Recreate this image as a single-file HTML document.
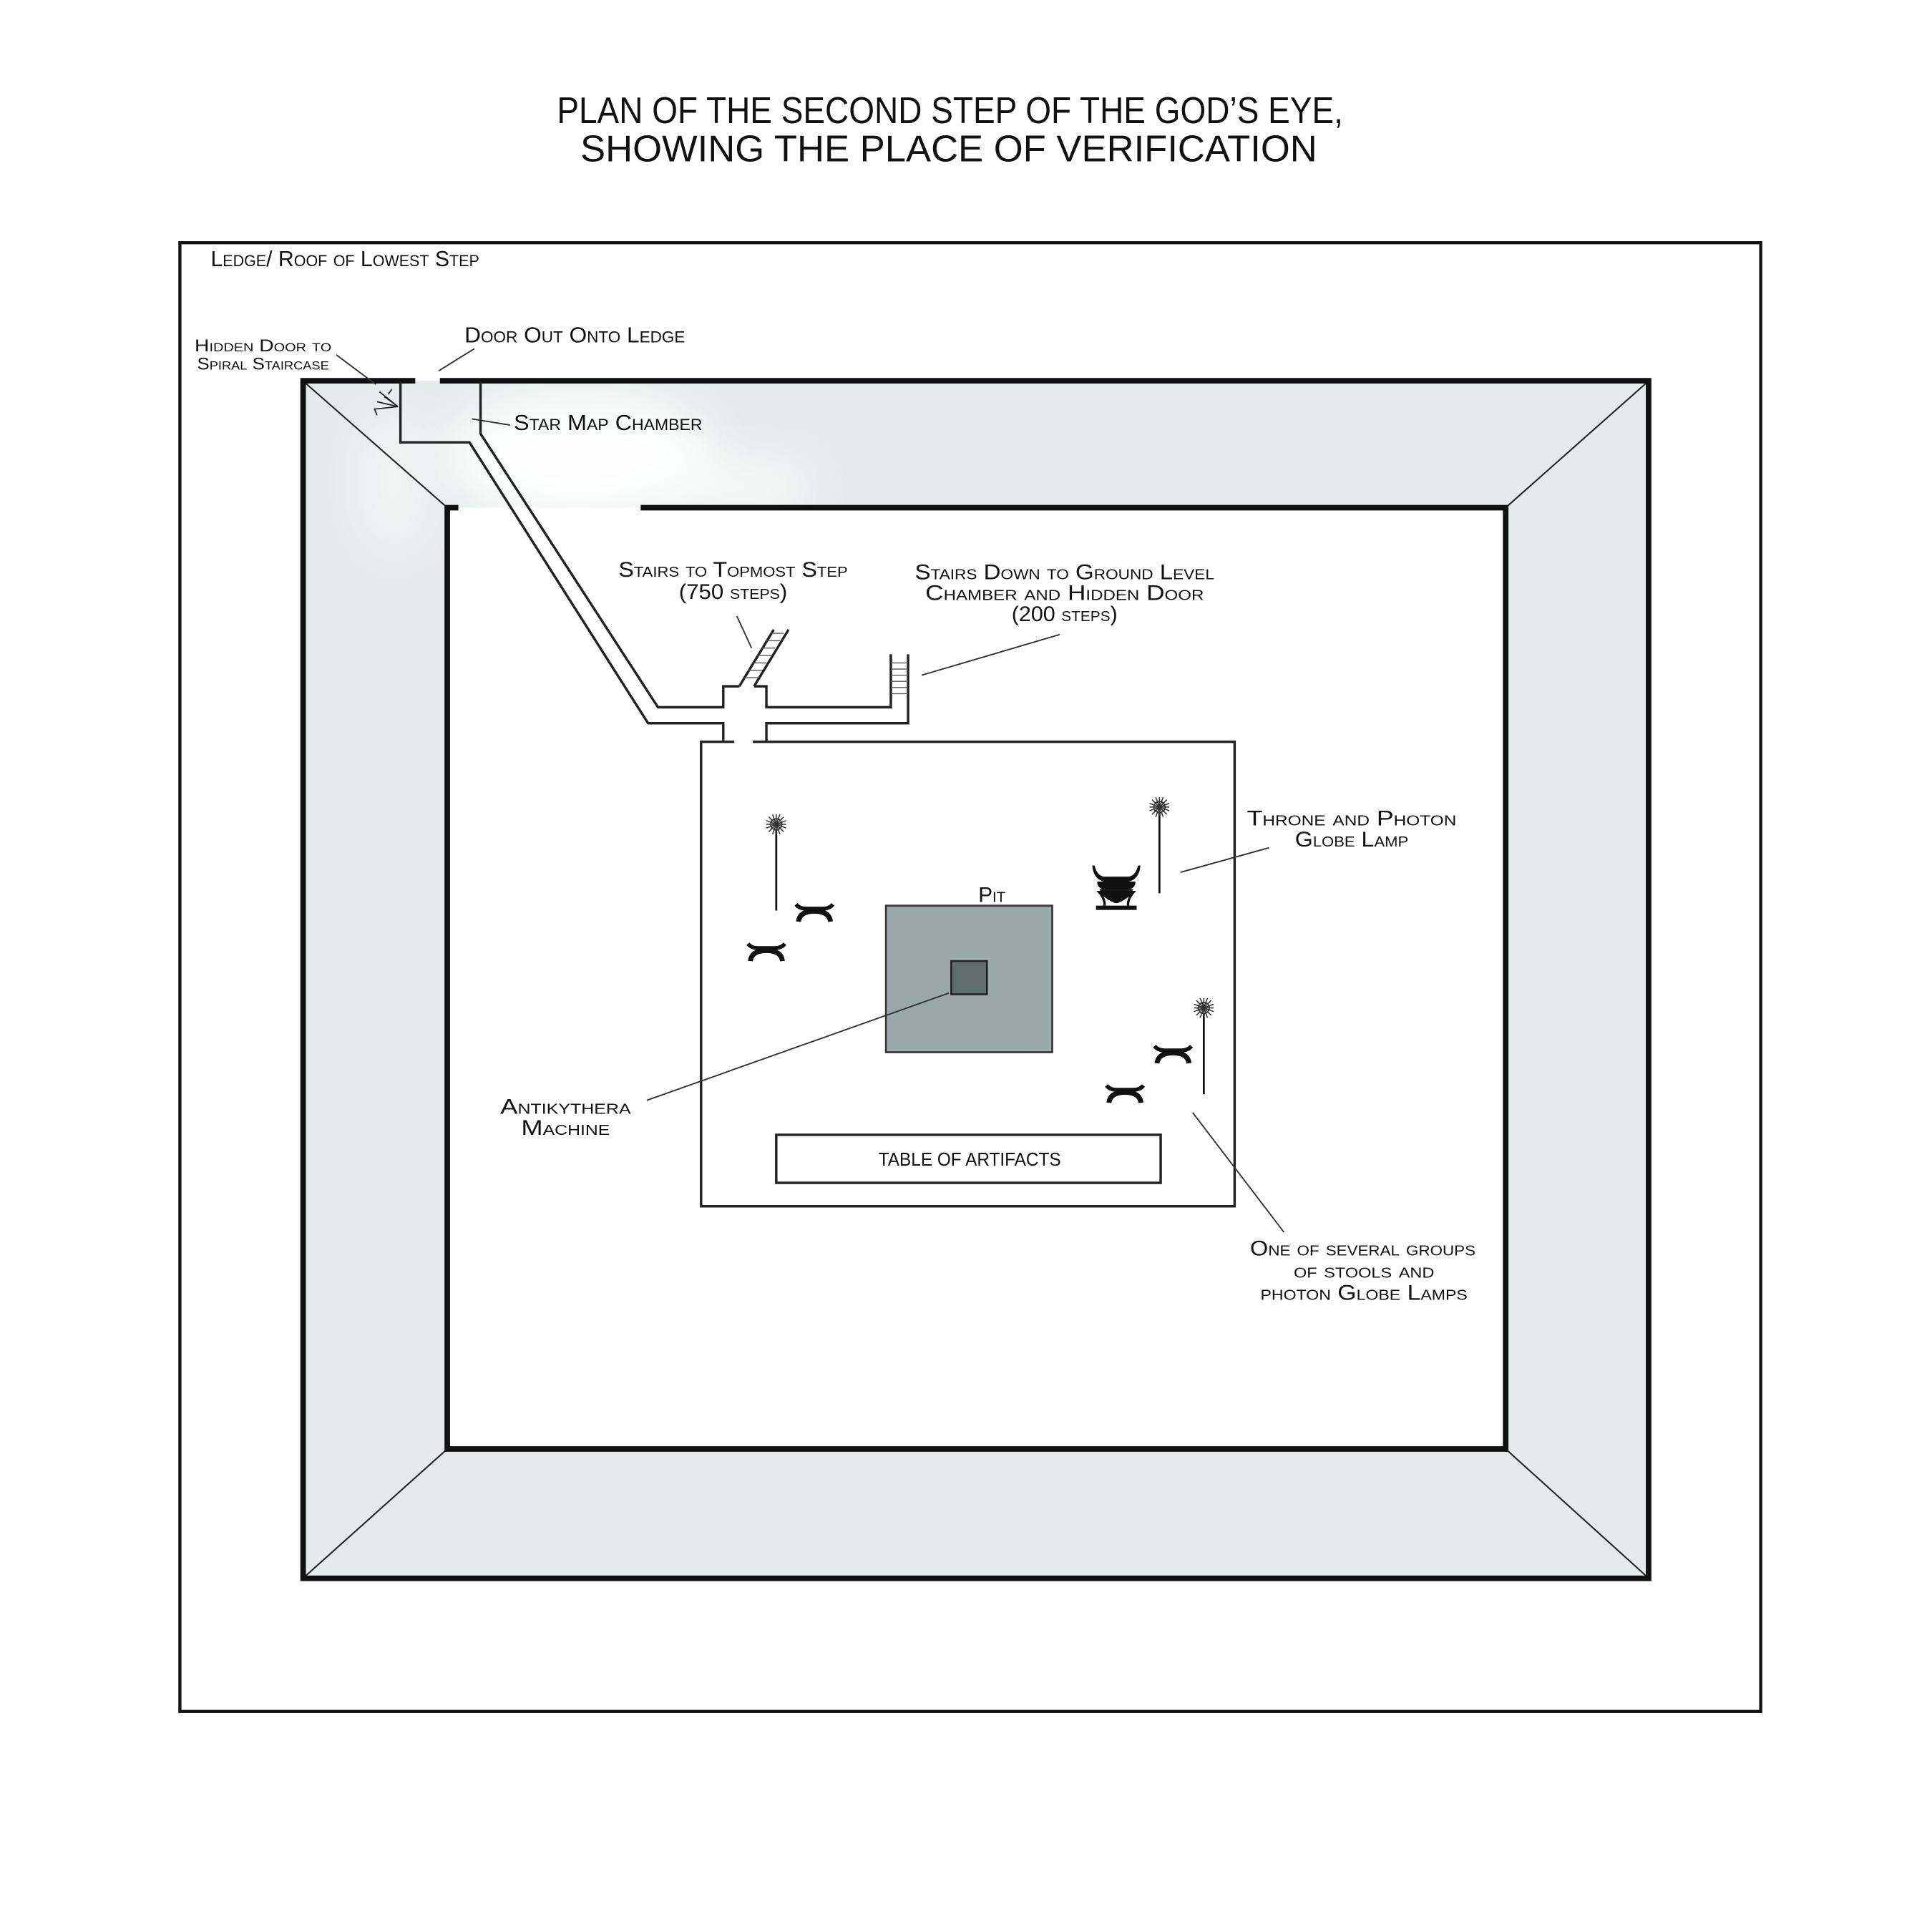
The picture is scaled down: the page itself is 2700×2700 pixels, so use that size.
<!DOCTYPE html>
<html><head><meta charset="utf-8">
<style>
html,body{margin:0;padding:0;background:#fff;}
svg{display:block;}
text{font-family:"Liberation Sans",sans-serif;fill:#111;font-variant:small-caps;}
</style></head>
<body>
<svg width="2700" height="2700" viewBox="0 0 1568 1568" xmlns="http://www.w3.org/2000/svg">
<defs>
<filter id="bl" x="-50%" y="-50%" width="200%" height="200%"><feGaussianBlur stdDeviation="18"/></filter>
<g id="stool"><path d="M1,1 Q4,4.5 9,4.5 H23 Q28,4.5 31,1" fill="none" stroke="#111" stroke-width="3.2"/><path d="M3,15 Q4,6.5 16,6.5 Q28,6.5 29,15" fill="none" stroke="#111" stroke-width="4"/></g>
<g id="lamp"><line x1="0" y1="0" x2="0" y2="70" stroke="#111" stroke-width="1.6"/><circle cx="0" cy="0" r="4.5" fill="#fff" stroke="#333" stroke-width="1"/><circle cx="0" cy="0" r="2" fill="#111"/><g stroke="#333" stroke-width="0.9"><line x1="-8" y1="0" x2="8" y2="0"/><line x1="0" y1="-8" x2="0" y2="8"/><line x1="-6" y1="-6" x2="6" y2="6"/><line x1="-6" y1="6" x2="6" y2="-6"/><line x1="-3" y1="-8" x2="3" y2="8"/><line x1="3" y1="-8" x2="-3" y2="8"/><line x1="-8" y1="-3" x2="8" y2="3"/><line x1="-8" y1="3" x2="8" y2="-3"/></g></g>
</defs>
<rect width="1568" height="1568" fill="#fff"/>

<text x="771" y="100" font-size="30" text-anchor="middle" textLength="638" lengthAdjust="spacingAndGlyphs" style="font-variant:normal">PLAN OF THE SECOND STEP OF THE GOD’S EYE,</text>
<text x="770" y="131" font-size="30" text-anchor="middle" textLength="598" lengthAdjust="spacingAndGlyphs" style="font-variant:normal">SHOWING THE PLACE OF VERIFICATION</text>

<rect x="146" y="197" width="1283" height="1192" fill="none" stroke="#111" stroke-width="2.5"/>

<path d="M246,309 H1338 V1281 H246 Z M363,412 V1176 H1222 V412 Z" fill="#e6eaea" fill-rule="evenodd"/>
<ellipse cx="470" cy="370" rx="110" ry="55" fill="#fff" filter="url(#bl)" opacity="0.9"/>
<ellipse cx="600" cy="395" rx="60" ry="25" fill="#fff" filter="url(#bl)" opacity="0.7"/>
<ellipse cx="320" cy="390" rx="30" ry="60" fill="#fff" filter="url(#bl)" opacity="0.5"/>
<g stroke="#222" stroke-width="1.2">
<line x1="248" y1="311" x2="363" y2="412"/><line x1="1336" y1="311" x2="1222" y2="412"/>
<line x1="248" y1="1279" x2="363" y2="1176"/><line x1="1336" y1="1279" x2="1222" y2="1176"/>
</g>
<g stroke="#111" stroke-width="4.5" fill="none">
<path d="M337,309 H246 V1281 H1338 V309 H357"/>
<path d="M372,412 H363 V1176 H1222 V412 H520"/>
</g>

<g stroke="#222" stroke-width="2" fill="none">
<path d="M325,310 V359 H381 L526,587 H587 V602"/>
<path d="M390,310 V352 L534,574 H587 V557 H600"/>
<path d="M612,557 H622 V574 H723 V531"/>
<path d="M737,531 V587 H622 V602"/>
<path d="M600,557 L628,511 M612,557 L640,511"/>
</g>
<g stroke="#555" stroke-width="0.8">
<line x1="604" y1="550" x2="615" y2="550"/><line x1="607" y1="544" x2="619" y2="544"/><line x1="611" y1="538" x2="622" y2="538"/><line x1="614" y1="532" x2="626" y2="532"/><line x1="618" y1="526" x2="629" y2="526"/><line x1="621" y1="520" x2="633" y2="520"/><line x1="625" y1="514" x2="636" y2="514"/>
<line x1="723" y1="538" x2="737" y2="538"/><line x1="723" y1="543" x2="737" y2="543"/><line x1="723" y1="548" x2="737" y2="548"/><line x1="723" y1="553" x2="737" y2="553"/><line x1="723" y1="558" x2="737" y2="558"/><line x1="723" y1="563" x2="737" y2="563"/>
</g>
<g stroke="#222" stroke-width="1" fill="none"><path d="M323,330 L308,318 M323,330 L312,322 M323,330 L306,326 M323,330 L304,332 L306,337 M315,320 L318,316"/></g>

<path d="M596,602 H569 V979 H1002 V602 H611" fill="none" stroke="#222" stroke-width="2"/>
<rect x="719" y="735" width="135" height="119" fill="#9aa8a8" stroke="#333" stroke-width="1.5"/>
<rect x="772" y="780" width="29" height="27" fill="#5f6d6d" stroke="#222" stroke-width="1.5"/>
<rect x="630" y="921" width="312" height="39" fill="#fff" stroke="#222" stroke-width="2"/>
<text x="787" y="946" font-size="15" text-anchor="middle" textLength="148" lengthAdjust="spacingAndGlyphs" style="font-variant:normal">TABLE OF ARTIFACTS</text>

<use href="#lamp" x="630" y="669"/>
<use href="#lamp" x="941" y="655"/>
<use href="#lamp" x="977" y="818"/>
<use href="#stool" x="645" y="733"/>
<use href="#stool" x="606" y="765"/>
<use href="#stool" x="936" y="848"/>
<use href="#stool" x="897" y="880"/>
<g transform="translate(886,701)" fill="#111" stroke="#111">
<path d="M1,2 Q2,12 10,14 L30,14 Q38,12 39,2 L38,2 Q36,10 30,11 L10,11 Q4,10 2,2 Z"/>
<path d="M5,15 H35 Q35,19 31,20 H9 Q5,19 5,15 Z"/>
<path d="M7,21 Q10,28 20,28 Q30,28 33,21 Z"/>
<circle cx="20" cy="28" r="3.5"/>
<path d="M6,23 Q12,30 10,36 H30 Q28,30 34,23 L33,23 Q25,30 20,31 Q15,30 7,23 Z" fill="none" stroke-width="2"/>
<rect x="4" y="34.5" width="32" height="2.5"/>
</g>

<g stroke="#333" stroke-width="1.1">
<line x1="273" y1="288" x2="305" y2="312"/>
<line x1="385" y1="283" x2="356" y2="301"/>
<line x1="383" y1="340" x2="414" y2="345"/>
<line x1="598" y1="500" x2="610" y2="526"/>
<line x1="860" y1="515" x2="748" y2="548"/>
<line x1="1030" y1="688" x2="958" y2="708"/>
<line x1="525" y1="893" x2="770" y2="806"/>
<line x1="1042" y1="1000" x2="968" y2="903"/>
</g>

<text x="171" y="216" font-size="18" textLength="218" lengthAdjust="spacingAndGlyphs">Ledge/ Roof of Lowest Step</text>
<text x="158" y="285" font-size="14" textLength="111" lengthAdjust="spacingAndGlyphs">Hidden Door to</text>
<text x="160" y="300" font-size="14" textLength="107" lengthAdjust="spacingAndGlyphs">Spiral Staircase</text>
<text x="377" y="278" font-size="18" textLength="179" lengthAdjust="spacingAndGlyphs">Door Out Onto Ledge</text>
<text x="417" y="349" font-size="18" textLength="153" lengthAdjust="spacingAndGlyphs">Star Map Chamber</text>
<text x="595" y="468" font-size="17" text-anchor="middle" textLength="186" lengthAdjust="spacingAndGlyphs">Stairs to Topmost Step</text>
<text x="595" y="486" font-size="17" text-anchor="middle" textLength="88" lengthAdjust="spacingAndGlyphs">(750 steps)</text>
<text x="864" y="470" font-size="17" text-anchor="middle" textLength="243" lengthAdjust="spacingAndGlyphs">Stairs Down to Ground Level</text>
<text x="864" y="487" font-size="17" text-anchor="middle" textLength="226" lengthAdjust="spacingAndGlyphs">Chamber and Hidden Door</text>
<text x="864" y="504" font-size="17" text-anchor="middle" textLength="86" lengthAdjust="spacingAndGlyphs">(200 steps)</text>
<text x="1097" y="670" font-size="17" text-anchor="middle" textLength="170" lengthAdjust="spacingAndGlyphs">Throne and Photon</text>
<text x="1097" y="687" font-size="17" text-anchor="middle" textLength="92" lengthAdjust="spacingAndGlyphs">Globe Lamp</text>
<text x="805" y="732" font-size="17" text-anchor="middle" textLength="22" lengthAdjust="spacingAndGlyphs">Pit</text>
<text x="459" y="904" font-size="17" text-anchor="middle" textLength="106" lengthAdjust="spacingAndGlyphs">Antikythera</text>
<text x="459" y="921" font-size="17" text-anchor="middle" textLength="72" lengthAdjust="spacingAndGlyphs">Machine</text>
<text x="1106" y="1019" font-size="17" text-anchor="middle" textLength="183" lengthAdjust="spacingAndGlyphs">One of several groups</text>
<text x="1107" y="1037" font-size="17" text-anchor="middle" textLength="114" lengthAdjust="spacingAndGlyphs">of stools and</text>
<text x="1107" y="1055" font-size="17" text-anchor="middle" textLength="168" lengthAdjust="spacingAndGlyphs">photon Globe Lamps</text>
</svg>
</body></html>
